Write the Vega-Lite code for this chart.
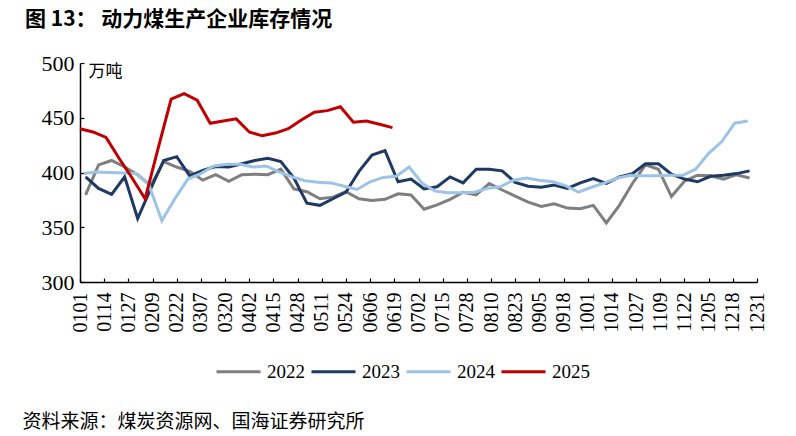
{
  "$schema": "https://vega.github.io/schema/vega-lite/v6.json",
  "width": 677,
  "height": 219,
  "autosize": {"type": "none"},
  "padding": {"left": 80, "top": 63, "right": 39, "bottom": 154},
  "background": "white",
  "title": {
    "text": "图 13：    动力煤生产企业库存情况",
    "anchor": "start",
    "frame": "group",
    "font": "Noto Sans CJK SC",
    "fontSize": 21,
    "fontWeight": "bold",
    "color": "black",
    "dx": -55,
    "offset": 22
  },
  "config": {
    "view": {"stroke": null},
    "axis": {"grid": false}
  },
  "datasets": {
    "stock": [
      {"year": "2022", "day": 3, "value": 379.5},
      {"year": "2022", "day": 10, "value": 407},
      {"year": "2022", "day": 17, "value": 411},
      {"year": "2022", "day": 24, "value": 405},
      {"year": "2022", "day": 31, "value": 398},
      {"year": "2022", "day": 38, "value": 388},
      {"year": "2022", "day": 45, "value": 410},
      {"year": "2022", "day": 52, "value": 405},
      {"year": "2022", "day": 59, "value": 401},
      {"year": "2022", "day": 66, "value": 393},
      {"year": "2022", "day": 73, "value": 398},
      {"year": "2022", "day": 80, "value": 392},
      {"year": "2022", "day": 87, "value": 398},
      {"year": "2022", "day": 94, "value": 398.5},
      {"year": "2022", "day": 101, "value": 398},
      {"year": "2022", "day": 108, "value": 403},
      {"year": "2022", "day": 115, "value": 385},
      {"year": "2022", "day": 122, "value": 382.5},
      {"year": "2022", "day": 129, "value": 376},
      {"year": "2022", "day": 136, "value": 377.5},
      {"year": "2022", "day": 143, "value": 382.5},
      {"year": "2022", "day": 150, "value": 376},
      {"year": "2022", "day": 157, "value": 374.5},
      {"year": "2022", "day": 164, "value": 375.5},
      {"year": "2022", "day": 171, "value": 380.5},
      {"year": "2022", "day": 178, "value": 379.5},
      {"year": "2022", "day": 185, "value": 366.5},
      {"year": "2022", "day": 192, "value": 370.5},
      {"year": "2022", "day": 199, "value": 375.5},
      {"year": "2022", "day": 206, "value": 382},
      {"year": "2022", "day": 213, "value": 379.5},
      {"year": "2022", "day": 220, "value": 390},
      {"year": "2022", "day": 227, "value": 384},
      {"year": "2022", "day": 234, "value": 378.5},
      {"year": "2022", "day": 241, "value": 373},
      {"year": "2022", "day": 248, "value": 369},
      {"year": "2022", "day": 255, "value": 371.5},
      {"year": "2022", "day": 262, "value": 367.5},
      {"year": "2022", "day": 269, "value": 367},
      {"year": "2022", "day": 276, "value": 370},
      {"year": "2022", "day": 283, "value": 354},
      {"year": "2022", "day": 290, "value": 370},
      {"year": "2022", "day": 297, "value": 390},
      {"year": "2022", "day": 304, "value": 407},
      {"year": "2022", "day": 311, "value": 403},
      {"year": "2022", "day": 318, "value": 378},
      {"year": "2022", "day": 325, "value": 392},
      {"year": "2022", "day": 332, "value": 397.5},
      {"year": "2022", "day": 339, "value": 397},
      {"year": "2022", "day": 346, "value": 394},
      {"year": "2022", "day": 353, "value": 398},
      {"year": "2022", "day": 360, "value": 395},

      {"year": "2023", "day": 3, "value": 396},
      {"year": "2023", "day": 10, "value": 385.5},
      {"year": "2023", "day": 17, "value": 380},
      {"year": "2023", "day": 24, "value": 396},
      {"year": "2023", "day": 31, "value": 358},
      {"year": "2023", "day": 38, "value": 385},
      {"year": "2023", "day": 45, "value": 411},
      {"year": "2023", "day": 52, "value": 414.5},
      {"year": "2023", "day": 59, "value": 397},
      {"year": "2023", "day": 66, "value": 402},
      {"year": "2023", "day": 73, "value": 405.5},
      {"year": "2023", "day": 80, "value": 405},
      {"year": "2023", "day": 87, "value": 408},
      {"year": "2023", "day": 94, "value": 411},
      {"year": "2023", "day": 101, "value": 413},
      {"year": "2023", "day": 108, "value": 410},
      {"year": "2023", "day": 115, "value": 395},
      {"year": "2023", "day": 122, "value": 372},
      {"year": "2023", "day": 129, "value": 370},
      {"year": "2023", "day": 136, "value": 376},
      {"year": "2023", "day": 143, "value": 382},
      {"year": "2023", "day": 150, "value": 401},
      {"year": "2023", "day": 157, "value": 416},
      {"year": "2023", "day": 164, "value": 420},
      {"year": "2023", "day": 171, "value": 391.5},
      {"year": "2023", "day": 178, "value": 394},
      {"year": "2023", "day": 185, "value": 385},
      {"year": "2023", "day": 192, "value": 387},
      {"year": "2023", "day": 199, "value": 396},
      {"year": "2023", "day": 206, "value": 390.5},
      {"year": "2023", "day": 213, "value": 403},
      {"year": "2023", "day": 220, "value": 403},
      {"year": "2023", "day": 227, "value": 401.5},
      {"year": "2023", "day": 234, "value": 391},
      {"year": "2023", "day": 241, "value": 387.5},
      {"year": "2023", "day": 248, "value": 386.5},
      {"year": "2023", "day": 255, "value": 388.5},
      {"year": "2023", "day": 262, "value": 385.5},
      {"year": "2023", "day": 269, "value": 390.5},
      {"year": "2023", "day": 276, "value": 394.5},
      {"year": "2023", "day": 283, "value": 390},
      {"year": "2023", "day": 290, "value": 396},
      {"year": "2023", "day": 297, "value": 399},
      {"year": "2023", "day": 304, "value": 408},
      {"year": "2023", "day": 311, "value": 408},
      {"year": "2023", "day": 318, "value": 398.5},
      {"year": "2023", "day": 325, "value": 394},
      {"year": "2023", "day": 332, "value": 391.5},
      {"year": "2023", "day": 339, "value": 396.5},
      {"year": "2023", "day": 346, "value": 397.5},
      {"year": "2023", "day": 353, "value": 399},
      {"year": "2023", "day": 360, "value": 401.5},

      {"year": "2024", "day": 2, "value": 399},
      {"year": "2024", "day": 9, "value": 400.5},
      {"year": "2024", "day": 16, "value": 400},
      {"year": "2024", "day": 23, "value": 399.5},
      {"year": "2024", "day": 30, "value": 399},
      {"year": "2024", "day": 37, "value": 389},
      {"year": "2024", "day": 44, "value": 356},
      {"year": "2024", "day": 51, "value": 376},
      {"year": "2024", "day": 58, "value": 394},
      {"year": "2024", "day": 65, "value": 399},
      {"year": "2024", "day": 72, "value": 406},
      {"year": "2024", "day": 79, "value": 407.5},
      {"year": "2024", "day": 86, "value": 407.5},
      {"year": "2024", "day": 93, "value": 405},
      {"year": "2024", "day": 100, "value": 406},
      {"year": "2024", "day": 107, "value": 400.5},
      {"year": "2024", "day": 114, "value": 396},
      {"year": "2024", "day": 121, "value": 392.5},
      {"year": "2024", "day": 128, "value": 391},
      {"year": "2024", "day": 135, "value": 390.5},
      {"year": "2024", "day": 142, "value": 387.5},
      {"year": "2024", "day": 149, "value": 384.5},
      {"year": "2024", "day": 156, "value": 391.5},
      {"year": "2024", "day": 163, "value": 395.5},
      {"year": "2024", "day": 170, "value": 396.5},
      {"year": "2024", "day": 177, "value": 405},
      {"year": "2024", "day": 184, "value": 390},
      {"year": "2024", "day": 191, "value": 383},
      {"year": "2024", "day": 198, "value": 381.5},
      {"year": "2024", "day": 205, "value": 381.5},
      {"year": "2024", "day": 212, "value": 382},
      {"year": "2024", "day": 219, "value": 385.5},
      {"year": "2024", "day": 226, "value": 387},
      {"year": "2024", "day": 233, "value": 393},
      {"year": "2024", "day": 240, "value": 395},
      {"year": "2024", "day": 247, "value": 393},
      {"year": "2024", "day": 254, "value": 391.5},
      {"year": "2024", "day": 261, "value": 388},
      {"year": "2024", "day": 268, "value": 382},
      {"year": "2024", "day": 275, "value": 386.5},
      {"year": "2024", "day": 282, "value": 390.5},
      {"year": "2024", "day": 289, "value": 395},
      {"year": "2024", "day": 296, "value": 397.5},
      {"year": "2024", "day": 303, "value": 397},
      {"year": "2024", "day": 310, "value": 397},
      {"year": "2024", "day": 317, "value": 397.5},
      {"year": "2024", "day": 324, "value": 397.5},
      {"year": "2024", "day": 331, "value": 403},
      {"year": "2024", "day": 338, "value": 417.5},
      {"year": "2024", "day": 345, "value": 428},
      {"year": "2024", "day": 352, "value": 445},
      {"year": "2024", "day": 359, "value": 447},

      {"year": "2025", "day": 0, "value": 440},
      {"year": "2025", "day": 7, "value": 437},
      {"year": "2025", "day": 14, "value": 432},
      {"year": "2025", "day": 21, "value": 413},
      {"year": "2025", "day": 28, "value": 395},
      {"year": "2025", "day": 35, "value": 376},
      {"year": "2025", "day": 42, "value": 422},
      {"year": "2025", "day": 49, "value": 467},
      {"year": "2025", "day": 56, "value": 472},
      {"year": "2025", "day": 63, "value": 466},
      {"year": "2025", "day": 70, "value": 445},
      {"year": "2025", "day": 77, "value": 447},
      {"year": "2025", "day": 84, "value": 449},
      {"year": "2025", "day": 91, "value": 437},
      {"year": "2025", "day": 98, "value": 433.5},
      {"year": "2025", "day": 105, "value": 436},
      {"year": "2025", "day": 112, "value": 440},
      {"year": "2025", "day": 119, "value": 448},
      {"year": "2025", "day": 126, "value": 455},
      {"year": "2025", "day": 133, "value": 456.5},
      {"year": "2025", "day": 140, "value": 460},
      {"year": "2025", "day": 147, "value": 446},
      {"year": "2025", "day": 154, "value": 447},
      {"year": "2025", "day": 161, "value": 444},
      {"year": "2025", "day": 168, "value": 441}
    ]
  },
  "data": {"name": "stock"},
  "mark": {"type": "line", "strokeWidth": 3, "interpolate": "linear"},
  "encoding": {
    "x": {
      "field": "day",
      "type": "quantitative",
      "scale": {"domain": [0, 364], "nice": false, "zero": false},
      "axis": {
        "values": [0, 13, 26, 39, 52, 65, 78, 91, 104, 117, 130, 143, 156, 169, 182, 195, 208, 221, 234, 247, 260, 273, 286, 299, 312, 325, 338, 351, 364],
        "labelExpr": "timeFormat(datetime(2021, 0, 1 + datum.value), '%m%d')",
        "labelAngle": -90,
        "labelFont": "Liberation Serif",
        "labelFontSize": 20,
        "labelColor": "black",
        "labelPadding": 14,
        "labelOverlap": false,
        "labelFlush": false,
        "domainColor": "black",
        "domainWidth": 1.5,
        "tickColor": "black",
        "tickSize": -4,
        "tickWidth": 1.2,
        "title": "资料来源：煤炭资源网、国海证券研究所",
        "titleFont": "Noto Sans CJK SC",
        "titleFontSize": 19,
        "titleFontWeight": "normal",
        "titleColor": "black",
        "titleAlign": "left",
        "titleBaseline": "middle",
        "titleAngle": 0,
        "titleX": -58,
        "titleY": 139
      }
    },
    "y": {
      "field": "value",
      "type": "quantitative",
      "scale": {"domain": [300, 500], "nice": false, "zero": false},
      "axis": {
        "values": [300, 350, 400, 450, 500],
        "labelFont": "Liberation Serif",
        "labelFontSize": 22,
        "labelColor": "black",
        "labelPadding": 10,
        "domainColor": "black",
        "domainWidth": 1.5,
        "tickColor": "black",
        "tickSize": -4,
        "tickWidth": 1.2,
        "title": "万吨",
        "titleFont": "Noto Sans CJK SC",
        "titleFontSize": 17,
        "titleFontWeight": "normal",
        "titleColor": "black",
        "titleAngle": 0,
        "titleAlign": "center",
        "titleBaseline": "middle",
        "titleX": 25,
        "titleY": 8
      }
    },
    "color": {
      "field": "year",
      "type": "nominal",
      "scale": {"domain": ["2022", "2023", "2024", "2025"], "range": ["#7F7F7F", "#1F3864", "#9DC3E6", "#C00000"]},
      "legend": {
        "orient": "none",
        "legendX": 135,
        "legendY": 285,
        "direction": "horizontal",
        "title": null,
        "symbolType": "stroke",
        "symbolSize": 1936,
        "symbolStrokeWidth": 3,
        "labelFont": "Liberation Serif",
        "labelFontSize": 19,
        "labelColor": "black",
        "labelOffset": 5,
        "columnPadding": 0
      }
    }
  }
}
